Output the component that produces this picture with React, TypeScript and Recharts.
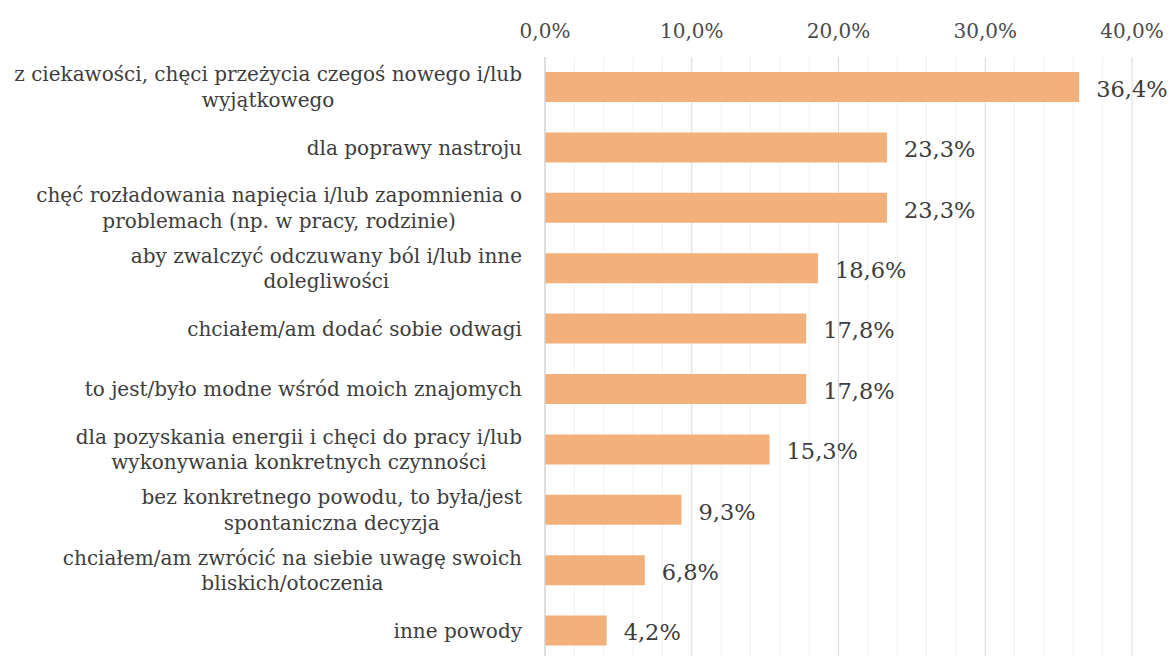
import React from "react";
import { BarChart, Bar, XAxis, YAxis, CartesianGrid, LabelList } from "recharts";

const categories: string[] = [
  "z ciekawości, chęci przeżycia czegoś nowego i/lub\nwyjątkowego",
  "dla poprawy nastroju",
  "chęć rozładowania napięcia i/lub zapomnienia o\nproblemach (np. w pracy, rodzinie)",
  "aby zwalczyć odczuwany ból i/lub inne\ndolegliwości",
  "chciałem/am dodać sobie odwagi",
  "to jest/było modne wśród moich znajomych",
  "dla pozyskania energii i chęci do pracy i/lub\nwykonywania konkretnych czynności",
  "bez konkretnego powodu, to była/jest\nspontaniczna decyzja",
  "chciałem/am zwrócić na siebie uwagę swoich\nbliskich/otoczenia",
  "inne powody",
];
const values: number[] = [36.4, 23.3, 23.3, 18.6, 17.8, 17.8, 15.3, 9.3, 6.8, 4.2];
const majorTicks: number[] = [0, 10, 20, 30, 40];
const minorTicks: number[] = [2, 4, 6, 8, 12, 14, 16, 18, 22, 24, 26, 28, 32, 34, 36, 38];

const data = categories.map((c, i) => ({ name: c, value: values[i] }));

const CHART_W = 1171;
const FONT = "'DejaVu Serif', serif";
const CAT_SIZE = 20;
const VAL_SIZE = 22.5;
const fmt = (v: number) => v.toFixed(1).replace(".", ",") + "%";

let ctx: CanvasRenderingContext2D | null = null;
function measure(s: string, font: string): number {
  if (!ctx && typeof document !== "undefined") ctx = document.createElement("canvas").getContext("2d");
  if (!ctx) return s.length * 10;
  ctx.font = font;
  return ctx.measureText(s).width;
}

const CategoryTick = (props: any) => {
  const { x, y, payload } = props;
  const lines: string[] = String(payload.value).split("\n");
  const font = `${CAT_SIZE}px ${FONT}`;
  const maxW = Math.max(...lines.map((l) => measure(l, font)));
  const right = x - 15;
  const cx = Math.max(right - maxW / 2, maxW / 2 + 3);
  const lh = 25.5;
  const startY = y - ((lines.length - 1) * lh) / 2;
  return (
    <text fontFamily={FONT} fontSize={CAT_SIZE} fill="#3d3d3d" textAnchor="middle">
      {lines.map((l, i) => (
        <tspan key={i} x={cx} y={startY + i * lh} dy="0.35em">
          {l}
        </tspan>
      ))}
    </text>
  );
};

const ValueLabel = (props: any) => {
  const { x, y, width, height, value } = props;
  const txt = fmt(Number(value));
  const w = measure(txt, `${VAL_SIZE}px ${FONT}`);
  let lx = Number(x) + Number(width) + 17;
  if (lx + w > CHART_W - 3) lx = CHART_W - 3 - w;
  return (
    <text
      x={lx}
      y={Number(y) + Number(height) / 2 + 2}
      dy="0.35em"
      fontFamily={FONT}
      fontSize={VAL_SIZE}
      fill="#3d3d3d"
      textAnchor="start"
    >
      {txt}
    </text>
  );
};

const minorGen = (args: any) => {
  const xa = args && args.xAxis;
  if (xa && typeof xa.scale === "function") return minorTicks.map((t) => xa.scale(t));
  const off = args.offset;
  return minorTicks.map((t) => off.left + (t / 40) * off.width);
};

export default function App() {
  return (
    <div style={{ position: "absolute", left: 0, top: 0, background: "#fff" }}>
      <BarChart
        width={CHART_W}
        height={664}
        data={data}
        layout="vertical"
        margin={{ top: 27, right: 39, bottom: 3, left: 0 }}
        barSize={30}
      >
        <CartesianGrid horizontal={false} stroke="#f0f0f0" verticalCoordinatesGenerator={minorGen} />
        <CartesianGrid horizontal={false} stroke="#dadada" />
        <XAxis
          type="number"
          orientation="top"
          domain={[0, 40]}
          ticks={majorTicks}
          tickFormatter={fmt}
          axisLine={false}
          tickLine={false}
          tickMargin={13}
          tick={{ fontFamily: FONT, fontSize: 20, fill: "#4a4a4a" }}
          height={30}
        />
        <YAxis
          type="category"
          dataKey="name"
          width={545}
          axisLine={{ stroke: "#cfcfcf" }}
          tickLine={false}
          tick={<CategoryTick />}
          interval={0}
        />
        <Bar dataKey="value" fill="#F2B07A" isAnimationActive={false}>
          <LabelList dataKey="value" content={<ValueLabel />} />
        </Bar>
      </BarChart>
    </div>
  );
}
